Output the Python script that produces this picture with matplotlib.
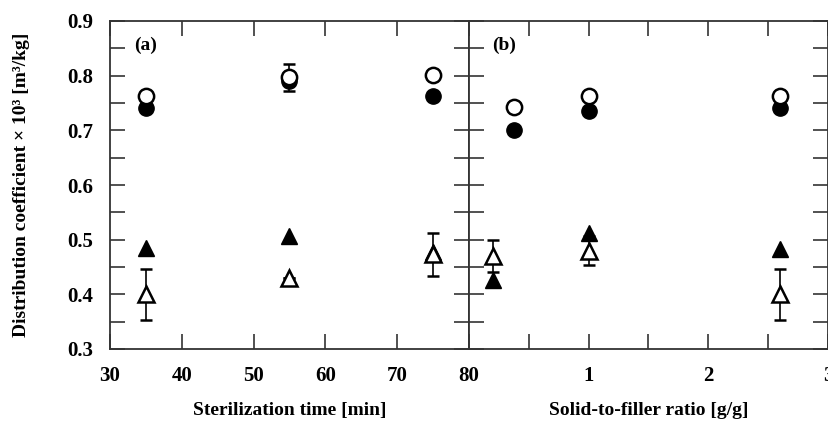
import numpy as np
import matplotlib.pyplot as plt

plt.rcParams['font.family'] = 'Liberation Serif'
plt.rcParams['font.weight'] = 'bold'

# (a) sterilization time
time = [35, 55, 75]
a_open_circ = [0.762, 0.797, 0.802]
a_open_circ_err = [0.0, 0.025, 0.0]
a_fill_circ = [0.740, 0.790, 0.763]
a_open_tri = [0.400, 0.430, 0.473]
a_open_tri_err = [0.047, 0.0, 0.039]
a_fill_tri = [0.485, 0.507, 0.478]

# (b) solid-to-filler ratio
ratio_circ = [0.38, 1.0, 2.6]
ratio_tri = [0.2, 1.0, 2.6]
b_open_circ = [0.743, 0.762, 0.762]
b_fill_circ = [0.700, 0.735, 0.740]
b_open_tri = [0.470, 0.480, 0.400]
b_open_tri_err = [0.030, 0.026, 0.047]
b_fill_tri = [0.427, 0.513, 0.483]

ms = 11
spine_col = '#333333'

fig = plt.figure(figsize=(8.29, 4.21), dpi=100)
ax1 = fig.add_axes([110/829, 1-349/421, 359/829, 328/421])
ax2 = fig.add_axes([469/829, 1-349/421, 359/829, 328/421])


def markers(ax, xc, xt, oc, oce, fc, ot, ote, ft):
    ax.plot(xc, fc, 'o', ms=ms, mfc='k', mec='k', zorder=3)
    ax.errorbar(xc, oc, yerr=oce, fmt='o', ms=ms, mfc='white', mec='k', mew=1.8,
                ecolor='k', elinewidth=1.2, capsize=4, capthick=1.2, zorder=4)
    ax.plot(xt, ft, '^', ms=ms + 1, mfc='k', mec='k', zorder=3)
    ax.errorbar(xt, ot, yerr=ote, fmt='^', ms=ms + 1, mfc='white', mec='k', mew=1.8,
                ecolor='k', elinewidth=1.2, capsize=4, capthick=1.2, zorder=4)


markers(ax1, time, time, a_open_circ, a_open_circ_err, a_fill_circ,
        a_open_tri, a_open_tri_err, a_fill_tri)
markers(ax2, ratio_circ, ratio_tri, b_open_circ, [0, 0, 0], b_fill_circ,
        b_open_tri, b_open_tri_err, b_fill_tri)

for ax in (ax1, ax2):
    ax.set_ylim(0.3, 0.9)
    ax.set_yticks(np.arange(0.3, 0.91, 0.05))
    for s in ax.spines.values():
        s.set_color(spine_col)
        s.set_linewidth(1.3)
    ax.tick_params(direction='in', length=11, width=1.2, color=spine_col,
                   top=True, right=True, labelsize=15)
    ax.tick_params(axis='x', pad=12)
    ax.tick_params(axis='y', pad=12)

ax1.set_xlim(30, 80)
ax1.set_xticks([30, 40, 50, 60, 70, 80])
ax1.set_yticklabels(['0.3', '', '0.4', '', '0.5', '', '0.6', '', '0.7', '', '0.8', '', '0.9'])
ax1.set_xlabel('Sterilization time [min]', fontsize=14, fontweight='bold')
ax1.xaxis.set_label_coords(0.5, -0.163)
ax1.set_ylabel('Distribution coefficient × 10³ [m³/kg]', fontsize=14, fontweight='bold')
ax1.yaxis.set_label_coords(-0.222, 0.5)
ax1.text(35, 0.855, '(a)', fontsize=14, fontweight='bold', ha='center', va='center')

ax2.set_xlim(0, 3)
ax2.set_xticks([0, 0.5, 1, 1.5, 2, 2.5, 3])
ax2.set_xticklabels(['', '', '1', '', '2', '', '3'])
ax2.set_yticklabels([])
ax2.set_xlabel('Solid-to-filler ratio [g/g]', fontsize=14, fontweight='bold')
ax2.xaxis.set_label_coords(0.5, -0.163)
ax2.text(0.29, 0.855, '(b)', fontsize=14, fontweight='bold', ha='center', va='center')

fig.savefig('out.png', dpi=100)
